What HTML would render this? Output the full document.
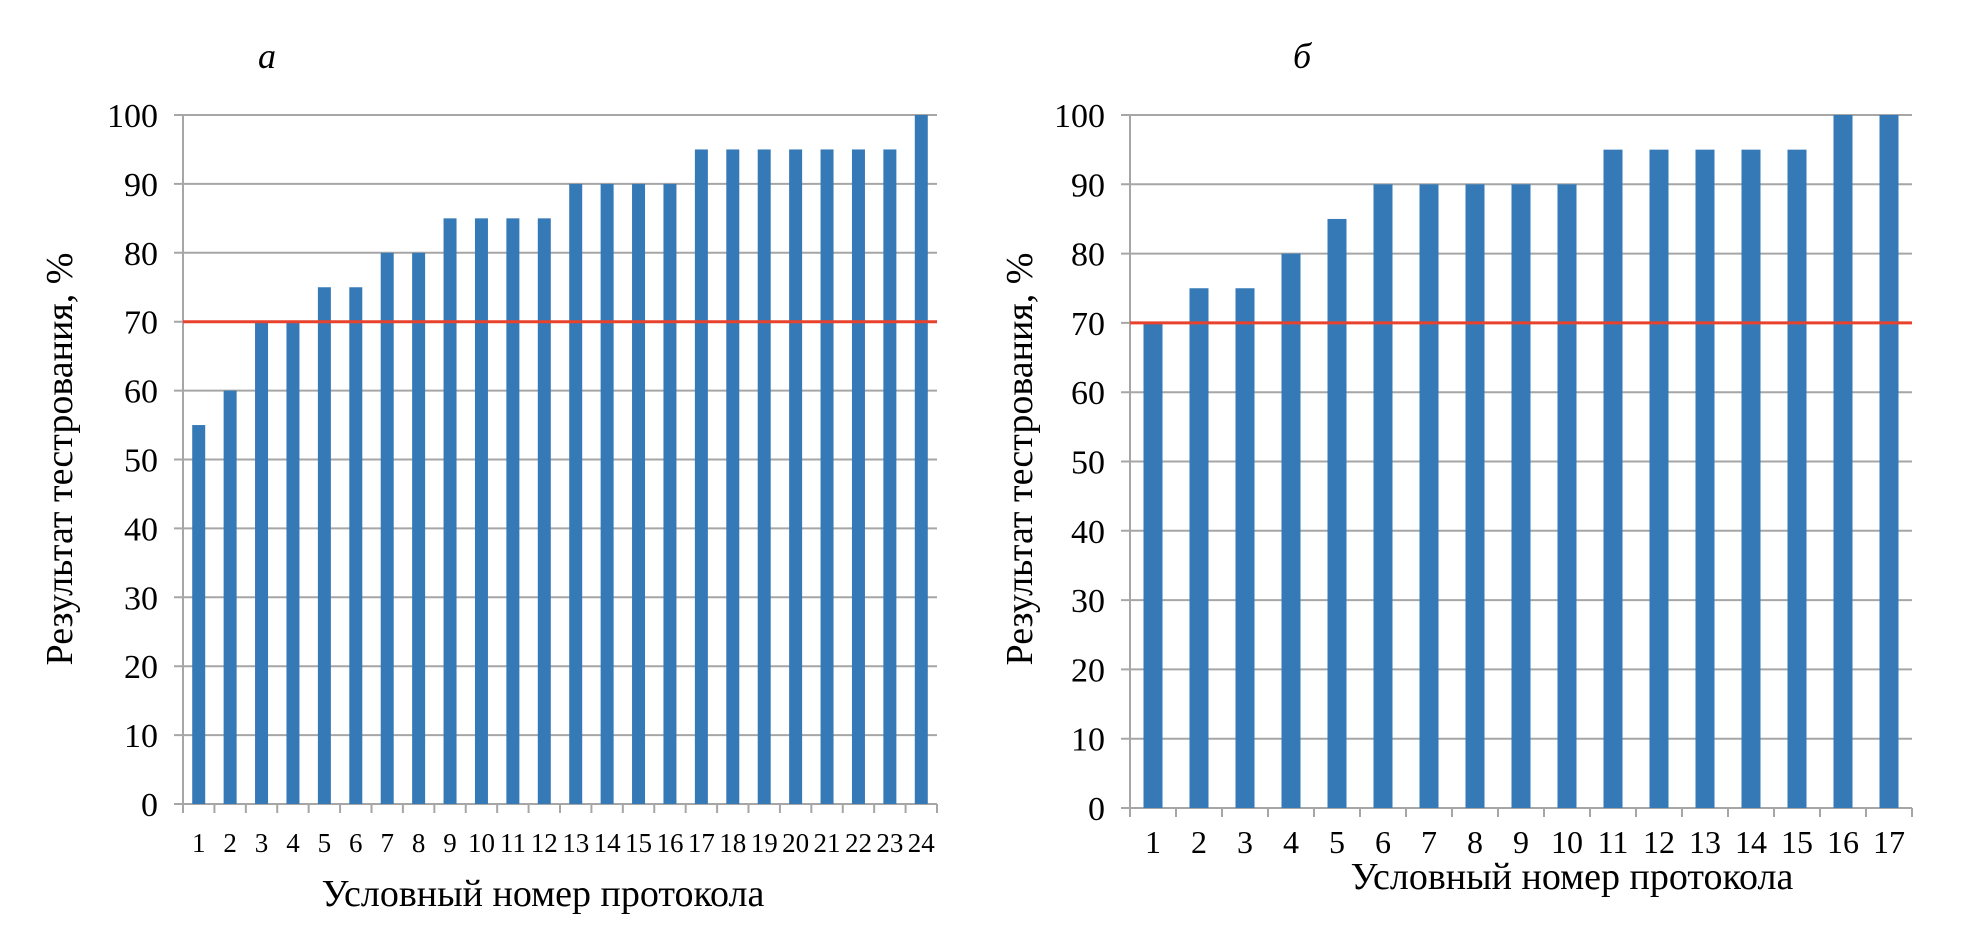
<!DOCTYPE html>
<html><head><meta charset="utf-8"><style>
html,body{margin:0;padding:0;background:#fff;}
svg{display:block;font-family:"Liberation Serif",serif;}
</style></head><body>
<svg id="svg" width="1973" height="926" viewBox="0 0 1973 926">
<text x="267" y="68" font-size="36" font-style="italic" text-anchor="middle">а</text>
<text x="1302" y="68" font-size="36" font-style="italic" text-anchor="middle">б</text>
<g id="chartA"></g>
<g id="chartB"></g>
<text x="543" y="906" font-size="38" text-anchor="middle">Условный номер протокола</text>
<text x="1572" y="889" font-size="38" text-anchor="middle">Условный номер протокола</text>
<text transform="translate(72,459) rotate(-90)" font-size="38" text-anchor="middle">Результат тестрования, %</text>
<text transform="translate(1032,459) rotate(-90)" font-size="38" text-anchor="middle">Результат тестрования, %</text>
</svg>
<script>
const valuesA = [55,60,70,70,75,75,80,80,85,85,85,85,90,90,90,90,95,95,95,95,95,95,95,100];
const valuesB = [70,75,75,80,85,90,90,90,90,90,95,95,95,95,95,100,100];
const yTicks = [0,10,20,30,40,50,60,70,80,90,100];
const thresholdA = 70;
const thresholdB = 70;
const NS="http://www.w3.org/2000/svg";
function mk(tag, attrs, parent){const e=document.createElementNS(NS,tag);for(const k in attrs)e.setAttribute(k,attrs[k]);parent.appendChild(e);return e;}
function draw(g, values, threshold, cfg){
  const n=values.length, step=(cfg.x1-cfg.x0)/n;
  const y=v=>cfg.yb-(v/100)*(cfg.yb-cfg.yt);
  yTicks.forEach(t=>{
    const l=mk('line',{x1:cfg.x0-9,x2:cfg.x1,y1:y(t),y2:y(t),stroke:'#a6a6a6','stroke-width':2},g);
    
    
    const tx=mk('text',{x:cfg.x0-cfg.lblOff,y:y(t)+12,'font-size':34,'text-anchor':'end'},g);
    tx.textContent=t;
    
    
  });
  const ax=mk('line',{x1:cfg.x0,x2:cfg.x0,y1:cfg.yt,y2:cfg.yb+9,stroke:'#a6a6a6','stroke-width':2},g);
  
  
  for(let i=0;i<=n;i++){
    const tk=mk('line',{x1:cfg.x0+i*step,x2:cfg.x0+i*step,y1:cfg.yb,y2:cfg.yb+9,stroke:'#a6a6a6','stroke-width':2},g);
    
    
  }
  values.forEach((v,i)=>{
    const cx=cfg.x0+(i+0.5)*step;
    const r=mk('rect',{x:cx-cfg.bw/2,y:y(v),width:cfg.bw,height:y(0)-y(v),fill:'#357ab7'},g);
    
    
    const t=mk('text',{x:cx,y:cfg.ly,'font-size':cfg.lfs,'text-anchor':'middle'},g);
    t.textContent=i+1;
    
    
  });
  const rl=mk('line',{x1:cfg.x0,x2:cfg.x1,y1:y(threshold),y2:y(threshold),stroke:'#e8412c','stroke-width':3},g);
  
  
}
draw(document.getElementById('chartA'),valuesA,thresholdA,{x0:183,x1:937,yt:115,yb:804,bw:13,lblOff:25,ly:852,lfs:27});
draw(document.getElementById('chartB'),valuesB,thresholdB,{x0:1130,x1:1912,yt:115,yb:808,bw:19,lblOff:25,ly:853,lfs:32});
</script>
</body></html>
